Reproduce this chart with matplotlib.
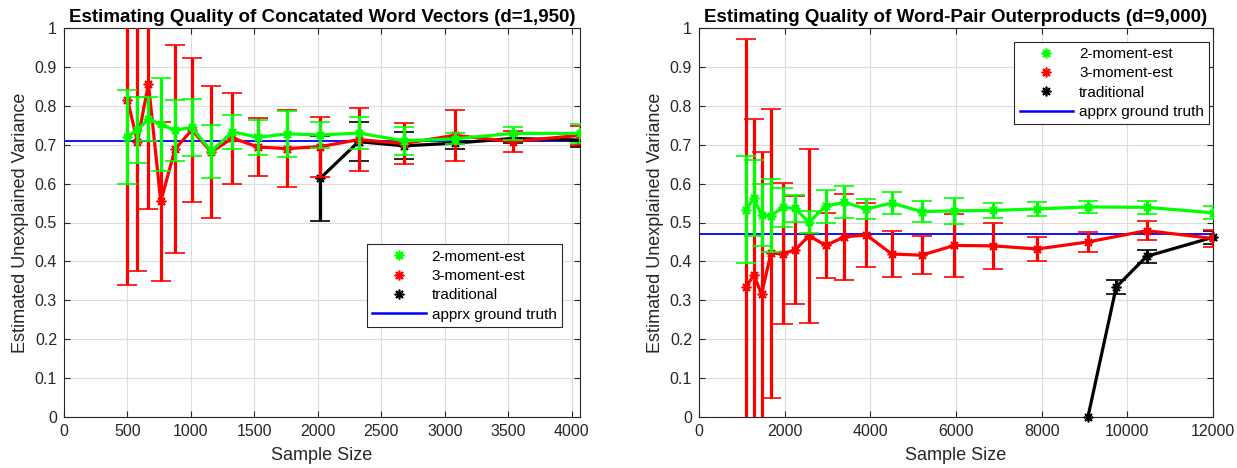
import numpy as np
import matplotlib
matplotlib.use('Agg')
from matplotlib import pyplot as plt
from matplotlib.lines import Line2D

plt.rcParams['font.family'] = ['Liberation Sans', 'DejaVu Sans']

# left panel: concatenated word vectors
x_left = [500, 578, 665, 762, 875, 1007, 1159, 1327, 1530, 1756, 2019, 2321, 2676, 3076, 3533, 4064]
m2_left = [0.720, 0.738, 0.766, 0.752, 0.737, 0.745, 0.683, 0.733, 0.719, 0.728, 0.725, 0.730, 0.710, 0.715, 0.729, 0.729]
m2_left_err = [0.121, 0.084, 0.056, 0.120, 0.078, 0.073, 0.068, 0.043, 0.045, 0.059, 0.033, 0.040, 0.036, 0.014, 0.016, 0.024]
m3_left = [0.815, 0.708, 0.856, 0.554, 0.689, 0.738, 0.681, 0.717, 0.694, 0.690, 0.695, 0.713, 0.703, 0.724, 0.708, 0.724]
m3_left_err = [0.476, 0.333, 0.322, 0.204, 0.267, 0.185, 0.170, 0.117, 0.074, 0.100, 0.077, 0.081, 0.053, 0.065, 0.027, 0.025]
x_trad_left = [2019, 2321, 2676, 3076, 3533, 4064]
trad_left = [0.614, 0.708, 0.697, 0.704, 0.716, 0.712]
trad_left_err = [0.109, 0.050, 0.035, 0.015, 0.012, 0.017]
truth_left = 0.71

# right panel: word-pair outerproducts
x_right = [1100, 1280, 1460, 1680, 1950, 2240, 2570, 2960, 3390, 3910, 4500, 5200, 5960, 6860, 7900, 9080, 10450, 12000]
m2_right = [0.533, 0.563, 0.519, 0.517, 0.539, 0.536, 0.501, 0.542, 0.552, 0.535, 0.550, 0.528, 0.530, 0.531, 0.535, 0.540, 0.539, 0.525]
m2_right_err = [0.138, 0.097, 0.079, 0.094, 0.050, 0.034, 0.029, 0.042, 0.041, 0.026, 0.029, 0.026, 0.034, 0.020, 0.018, 0.016, 0.017, 0.017]
m3_right = [0.335, 0.365, 0.316, 0.421, 0.420, 0.429, 0.466, 0.441, 0.463, 0.468, 0.419, 0.416, 0.441, 0.440, 0.432, 0.450, 0.479, 0.459]
m3_right_err = [0.638, 0.401, 0.364, 0.371, 0.181, 0.139, 0.224, 0.084, 0.110, 0.082, 0.060, 0.049, 0.080, 0.060, 0.030, 0.025, 0.024, 0.021]
x_trad_right = [9080, 9740, 10450, 12000]
trad_right = [0.0, 0.334, 0.413, 0.462]
trad_right_err = [np.nan, 0.018, 0.016, 0.017]
truth_right = 0.47

titles = ['Estimating Quality of Concatated Word Vectors (d=1,950)',
          'Estimating Quality of Word-Pair Outerproducts (d=9,000)']
names = ['2-moment-est', '3-moment-est', 'traditional', 'apprx ground truth']

GREEN = (0, 1, 0)
RED = (1, 0, 0)
BLACK = (0, 0, 0)
BLUE = (0, 0, 1)
AST = (8, 2, 0)


def draw(ax, x, m2, m2e, m3, m3e, xt, tr, tre, truth, xmax, xticks, title, trad_clip=True):
    ax.axhline(truth, color=BLUE, lw=1.3, zorder=2)
    kw = dict(marker=AST, ms=7, mew=1.2, lw=2.3, elinewidth=2.3, capsize=7, capthick=2.3)
    eb = ax.errorbar(xt, tr, yerr=tre, color=BLACK, zorder=3, **kw)
    if not trad_clip:
        eb.lines[0].set_clip_on(False)
    ax.errorbar(x, m3, yerr=m3e, color=RED, zorder=4, **kw)
    ax.errorbar(x, m2, yerr=m2e, color=GREEN, zorder=5, **kw)

    ax.set_xlim(0, xmax)
    ax.set_ylim(0, 1)
    ax.set_xticks(xticks)
    ax.set_yticks(np.arange(0, 1.01, 0.1))
    ax.set_yticklabels(['0'] + ['%.1f' % v for v in np.arange(0.1, 0.95, 0.1)] + ['1'])
    ax.grid(True, color='#dcdcdc', lw=0.8)
    ax.set_axisbelow(True)
    ax.tick_params(direction='in', top=True, right=True, length=4, width=0.8,
                   labelsize=11.5, colors='#262626', pad=5)
    for s in ax.spines.values():
        s.set_color('#262626')
        s.set_linewidth(0.8)
    ax.set_title(title, fontsize=13.5, fontweight='bold', pad=4)
    ax.set_xlabel('Sample Size', fontsize=13, color='#262626', labelpad=6)
    ax.set_ylabel('Estimated Unexplained Variance', fontsize=13, color='#262626', labelpad=4)


def add_legend(ax, loc, anchor):
    handles = [Line2D([], [], ls='none', marker=AST, ms=7, mew=1.2, color=GREEN),
               Line2D([], [], ls='none', marker=AST, ms=7, mew=1.2, color=RED),
               Line2D([], [], ls='none', marker=AST, ms=7, mew=1.2, color=BLACK),
               Line2D([], [], color=BLUE, lw=1.8)]
    leg = ax.legend(handles, names, loc=loc, bbox_to_anchor=anchor, fontsize=11,
                    fancybox=False, framealpha=1, edgecolor='#262626',
                    handlelength=3.5, handletextpad=0.4, labelspacing=0.35,
                    borderpad=0.35, borderaxespad=0)
    leg.get_frame().set_linewidth(0.8)


fig = plt.figure(figsize=(12.37, 4.68), dpi=100)
ax1 = fig.add_axes([64 / 1237, 51 / 468, 516 / 1237, 389 / 468])
ax2 = fig.add_axes([699 / 1237, 51 / 468, 514 / 1237, 389 / 468])

draw(ax1, x_left, m2_left, m2_left_err, m3_left, m3_left_err,
     x_trad_left, trad_left, trad_left_err, truth_left,
     x_left[-1], np.arange(0, 4001, 500), titles[0])
draw(ax2, x_right, m2_right, m2_right_err, m3_right, m3_right_err,
     x_trad_right, trad_right, trad_right_err, truth_right,
     12000, np.arange(0, 12001, 2000), titles[1], trad_clip=False)

add_legend(ax1, 'lower right', (0.965, 0.231))
add_legend(ax2, 'upper right', (0.993, 0.965))

fig.savefig('out.png', dpi=100)
